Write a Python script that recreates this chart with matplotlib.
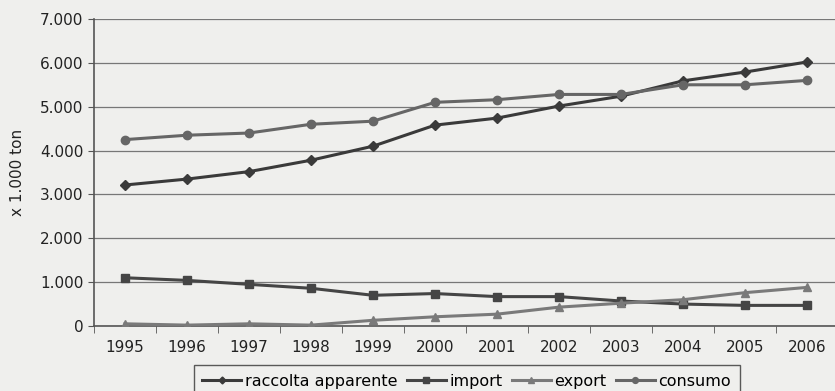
import numpy as np
import matplotlib.pyplot as plt
from matplotlib.ticker import FuncFormatter, MultipleLocator

anni = [1995, 1996, 1997, 1998, 1999, 2000, 2001, 2002, 2003, 2004, 2005, 2006]
raccolta_apparente = [3215, 3350, 3520, 3780, 4100, 4580, 4740, 5015, 5240, 5590, 5790, 6020]
importazioni = [1100, 1040, 950, 860, 700, 740, 670, 670, 570, 500, 470, 470]
esportazioni = [50, 20, 50, 20, 130, 210, 270, 430, 520, 600, 760, 880]
consumo = [4250, 4350, 4400, 4600, 4670, 5100, 5160, 5280, 5280, 5500, 5500, 5600]

bg = "#efefed"
fig = plt.figure(figsize=(8.35, 3.91), dpi=100, facecolor=bg)
ax = fig.add_axes([94 / 835, 65 / 391, 744 / 835, 307 / 391], facecolor=bg)

x = np.arange(len(anni))
serie = [
    (raccolta_apparente, "raccolta apparente", "D", "#3a3a3a", 5),
    (importazioni, "import", "s", "#454545", 6),
    (esportazioni, "export", "^", "#7a7a7a", 6),
    (consumo, "consumo", "o", "#666666", 6),
]
for valori, nome, marker, colore, ms in serie:
    ax.plot(x, valori, color=colore, lw=2.2, marker=marker, ms=ms,
            label=nome, zorder=3)

ax.set_xlim(-0.5, len(anni) - 0.5)
ax.set_ylim(0, 7000)
ax.yaxis.set_major_locator(MultipleLocator(1000))
ax.yaxis.set_major_formatter(FuncFormatter(lambda v, p: f"{int(v):,}".replace(",", ".")))
ax.set_xticks(x)
ax.set_xticklabels([str(a) for a in anni])
ax.set_xticks(np.arange(-0.5, len(anni)), minor=True)
ax.tick_params(axis="x", which="major", length=0, pad=10, labelsize=11, colors="#222222")
ax.tick_params(axis="x", which="minor", length=5, color="#555555")
ax.tick_params(axis="y", length=4, color="#555555", labelsize=11, labelcolor="#222222")
ax.grid(axis="y", color="#777777", lw=0.9)
ax.set_axisbelow(True)

for lato in ("top", "right"):
    ax.spines[lato].set_visible(False)
for lato in ("left", "bottom"):
    ax.spines[lato].set_color("#555555")
    ax.spines[lato].set_linewidth(1.2)

ax.set_ylabel("x 1.000 ton", fontsize=11, color="#222222", labelpad=11)

# legenda sotto il grafico, su una riga (il bordo inferiore esce dal foglio)
leg = ax.legend(loc="upper center", bbox_to_anchor=(0.5007, -0.127), ncol=4,
                fontsize=11.5, frameon=True, fancybox=False, borderpad=0.55,
                borderaxespad=0, handlelength=2.45, handletextpad=0.2,
                columnspacing=0.6, markerscale=0.7)
leg.get_frame().set_edgecolor("#333333")
leg.get_frame().set_facecolor(bg)
leg.get_frame().set_linewidth(1.0)

fig.savefig("out.png", dpi=100, facecolor=bg)
